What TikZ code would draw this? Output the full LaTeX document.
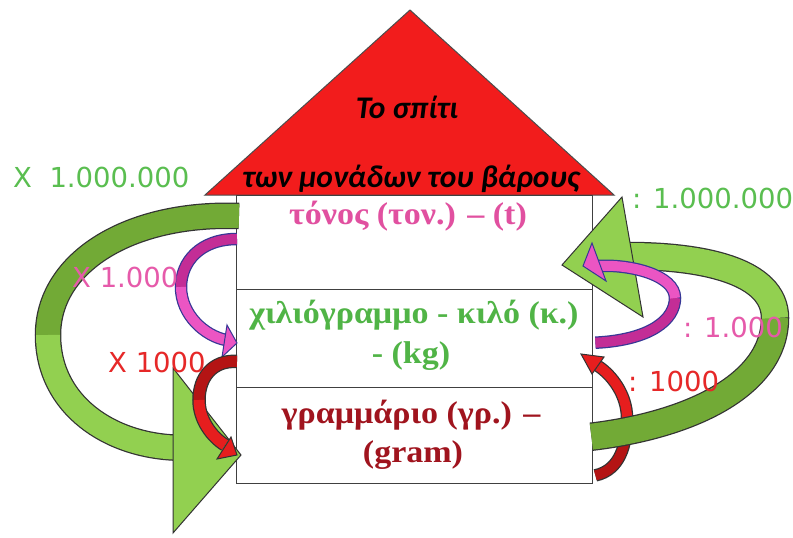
\documentclass[tikz,border=0pt]{standalone}
\usepackage{fontspec}
\setmainfont{Liberation Serif}
\newfontfamily\boxfont{Liberation Serif}[FakeStretch=1.08]
\newfontfamily\rooffont{Carlito}
\newfontfamily\lblfont{DejaVu Sans}
\usetikzlibrary{calc}
\definecolor{gLight}{RGB}{146,208,80}
\definecolor{gDark}{RGB}{114,170,54}
\definecolor{pinkA}{RGB}{235,85,195}
\definecolor{pinkB}{RGB}{195,45,150}
\definecolor{pinkEdge}{RGB}{55,55,150}
\definecolor{redA}{RGB}{230,30,30}
\definecolor{redB}{RGB}{180,20,20}
\definecolor{roofRed}{RGB}{242,28,28}
\definecolor{txtPink}{RGB}{225,80,160}
\definecolor{txtGreen}{RGB}{80,180,70}
\definecolor{txtDark}{RGB}{160,20,30}
\definecolor{lblGreen}{RGB}{90,190,80}
\definecolor{lblPink}{RGB}{230,90,170}
\definecolor{lblRed}{RGB}{230,40,40}
\tikzset{
  rowbox/.style={draw=black!75, line width=1.4pt, minimum width=356pt, anchor=north west, inner sep=0pt},
  boxtxt/.style={font=\boxfont\bfseries\fontsize{31.5}{34}\selectfont, anchor=base, inner sep=0pt},
  rooftxt/.style={font=\rooffont\bfseries\itshape\fontsize{31.5}{36}\selectfont, anchor=base, inner sep=0pt},
  lbl/.style={font=\lblfont\fontsize{27.5}{30}\selectfont, anchor=base west, inner sep=0pt},
  shaftout/.style={draw=black!80},
  headfill/.style={draw=black!80, line width=1pt, line join=miter}
}
\begin{document}
\begin{tikzpicture}[x=1pt,y=-1pt]
\useasboundingbox (0,0) rectangle (793,538);
\fill[white] (0,0) rectangle (793,538);

% roof
\coordinate (apex) at (410,10);
\coordinate (eaveL) at (205,195);
\coordinate (eaveR) at (614,195);
\draw[fill=roofRed, draw=black!70, line width=1pt] (apex) -- (eaveR) -- (eaveL) -- cycle;
\node[rooftxt] (roof1) at (407,118) {Το σπίτι};
\node[rooftxt] (roof2) at (411,187) {των μονάδων του βάρους};

% house rows
\node[rowbox, minimum height=94pt] (r1) at (236,195) {};
\node[rowbox, minimum height=98pt] (r2) at (236,289) {};
\node[rowbox, minimum height=96pt] (r3) at (236,387) {};

\node[boxtxt, text=txtPink] (t1) at (408,224) {τόνος (τον.) – (t)};
\node[boxtxt, text=txtGreen] (t2a) at (414,323) {χιλιόγραμμο - κιλό (κ.)};
\node[boxtxt, text=txtGreen] (t2b) at (411,363) {- (kg)};
\node[boxtxt, text=txtDark] (t3a) at (411,423) {γραμμάριο (γρ.) –};
\node[boxtxt, text=txtDark] (t3b) at (413,462) {(gram)};

% connector end points
\coordinate (gLs) at ($(r1.north west)+(3,21)$);
\coordinate (gLm) at (48,335);
\coordinate (gLe) at ($(r3.west)+(-58,12)$);
\coordinate (gRs) at ($(r3.east)+(-2,1)$);
\coordinate (gRm) at (775,318);
\coordinate (gRe) at (628,256);
\coordinate (pLs) at ($(r1.north west)+(1,44)$);
\coordinate (pLm) at (181,287);
\coordinate (pLe) at (226,340);
\coordinate (rLs) at ($(r2.south west)+(1,-27)$);
\coordinate (rLm) at (199,400);
\coordinate (rLe) at (225,445);
\coordinate (pRs) at ($(r2.east)+(2,4)$);
\coordinate (pRm) at (675,298);
\coordinate (pRe) at (598,266);
\coordinate (rRs) at ($(r3.south east)+(2,-9)$);
\coordinate (rRm) at (627,418);
\coordinate (rRe) at (598,366);

% ---- left green: tonne -> gram
\draw[shaftout, line width=26.5pt] (gLs) .. controls (130,212) and (48,262) .. (gLm) .. controls (48,405) and (110,446) .. (gLe);
\draw[gDark, line width=24pt] (gLs) .. controls (130,212) and (48,262) .. (gLm);
\draw[gLight, line width=24pt] (gLm) .. controls (48,405) and (110,446) .. (gLe);
\draw[headfill, fill=gLight] (173,368) -- (241,455) -- (173,533) -- cycle;

% ---- left pink: tonne -> kilo
\draw[pinkEdge, line width=12.5pt] (pLs) .. controls (200,239) and (181,262) .. (pLm) .. controls (181,315) and (205,336) .. (pLe);
\draw[pinkB, line width=10pt] (pLs) .. controls (200,239) and (181,262) .. (pLm);
\draw[pinkA, line width=10pt] (pLm) .. controls (181,315) and (205,336) .. (pLe);
\draw[headfill, draw=pinkEdge, fill=pinkA] (237,343) -- (227,325) -- (222,357) -- cycle;

% ---- left red: kilo -> gram
\draw[shaftout, line width=13.5pt] (rLs) .. controls (212,360) and (199,378) .. (rLm) .. controls (199,420) and (212,437) .. (rLe);
\draw[redB, line width=11pt] (rLs) .. controls (212,360) and (199,378) .. (rLm);
\draw[redA, line width=11pt] (rLm) .. controls (199,420) and (212,437) .. (rLe);
\draw[headfill, fill=redA] (237,455) -- (231,437) -- (217,459) -- cycle;

% ---- right red: gram -> kilo
\draw[shaftout, line width=12.5pt] (rRs) .. controls (620,470) and (627,445) .. (rRm) .. controls (627,395) and (612,375) .. (rRe);
\draw[redB, line width=10pt] (rRs) .. controls (620,470) and (627,445) .. (rRm);
\draw[redA, line width=10pt] (rRm) .. controls (627,395) and (612,375) .. (rRe);
\draw[headfill, fill=redA] (581,354) -- (604,357) -- (592,374) -- cycle;

% ---- right green: gram -> tonne
\draw[shaftout, line width=28.5pt] (gRs) .. controls (690,425) and (775,385) .. (gRm) .. controls (775,270) and (700,256) .. (gRe);
\draw[gDark, line width=26pt] (gRs) .. controls (690,425) and (775,385) .. (gRm);
\draw[gLight, line width=26pt] (gRm) .. controls (775,270) and (700,256) .. (gRe);
\draw[headfill, fill=gLight] (622,197) -- (562,265) -- (643,317) -- cycle;

% ---- right pink: kilo -> tonne
\draw[pinkEdge, line width=12.5pt] (pRs) .. controls (650,340) and (675,320) .. (pRm) .. controls (675,275) and (630,264) .. (pRe);
\draw[pinkB, line width=10pt] (pRs) .. controls (650,340) and (675,320) .. (pRm);
\draw[pinkA, line width=10pt] (pRm) .. controls (675,275) and (630,264) .. (pRe);
\draw[headfill, draw=pinkEdge, fill=pinkA] (592,243) -- (583,266) -- (606,281) -- cycle;

% labels
\node[lbl, text=lblGreen] (lg) at (13,187) {X\ \ 1.000.000};
\node[lbl, text=lblPink] (lp) at (72,287) {X 1.000};
\node[lbl, text=lblRed] (lr) at (108,372) {X 1000};
\node[lbl, text=lblGreen] (rg) at (632,208) {: 1.000.000};
\node[lbl, text=lblPink] (rp) at (683,337) {: 1.000};
\node[lbl, text=lblRed] (rr) at (628,391) {: 1000};
\end{tikzpicture}
\end{document}
